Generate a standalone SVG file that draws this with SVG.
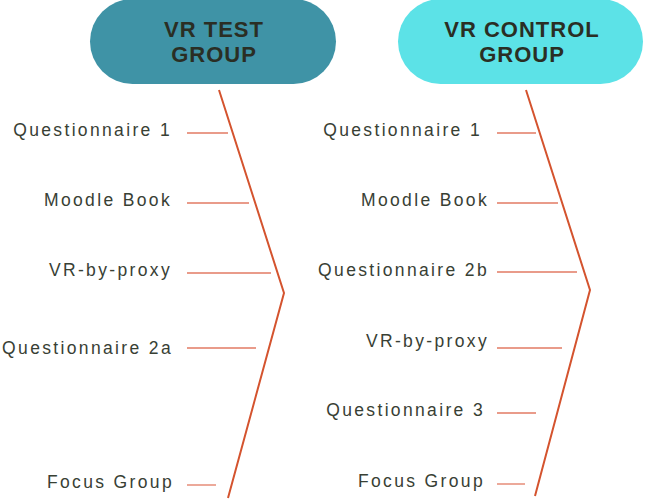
<svg xmlns="http://www.w3.org/2000/svg" width="645" height="500" viewBox="0 0 645 500">
<style>
.title{font-family:"Liberation Sans",Arial,sans-serif;font-weight:bold;font-size:22px;letter-spacing:1px;fill:#2a2e24;text-anchor:middle}
.lbl{font-family:"Liberation Sans",Arial,sans-serif;font-size:17.5px;letter-spacing:2.35px;fill:#384034;text-anchor:end}
.br{stroke:#e27a63;stroke-width:1.3;fill:none}
.spine{stroke:#d4532e;stroke-width:2;fill:none}
</style>
<rect width="645" height="500" fill="#ffffff"/>
<g id="node-test">
<rect x="90" y="-1" width="246" height="85" rx="42.5" fill="#3f93a6"/>
<text class="title" x="214" y="37">VR TEST</text>
<text class="title" x="214" y="62">GROUP</text>
</g>
<g id="node-control">
<rect x="398" y="-1" width="245" height="85" rx="42.5" fill="#5ce2e7"/>
<text class="title" x="522" y="37">VR CONTROL</text>
<text class="title" x="522" y="62">GROUP</text>
</g>
<g id="connectors">
<polyline class="spine" points="219,90 284,293 228,498"/>
<polyline class="spine" points="526,90 590,290 535,496"/>
<line class="br" x1="187" y1="133" x2="228" y2="133"/>
<line class="br" x1="187" y1="203" x2="249" y2="203"/>
<line class="br" x1="187" y1="273" x2="271" y2="273"/>
<line class="br" x1="187" y1="348" x2="256" y2="348"/>
<line class="br" x1="187" y1="485" x2="216" y2="485"/>
<line class="br" x1="497" y1="133" x2="536" y2="133"/>
<line class="br" x1="497" y1="203" x2="558" y2="203"/>
<line class="br" x1="497" y1="272" x2="577" y2="272"/>
<line class="br" x1="497" y1="348" x2="562" y2="348"/>
<line class="br" x1="497" y1="413" x2="536" y2="413"/>
<line class="br" x1="497" y1="484" x2="525" y2="484"/>
</g>
<g id="labels-test">
<text class="lbl" x="172" y="136">Questionnaire 1</text>
<text class="lbl" x="172" y="206">Moodle Book</text>
<text class="lbl" x="172" y="276">VR-by-proxy</text>
<text class="lbl" x="173" y="354">Questionnaire 2a</text>
<text class="lbl" x="174" y="488">Focus Group</text>
</g>
<g id="labels-control">
<text class="lbl" x="482" y="136">Questionnaire 1</text>
<text class="lbl" x="489" y="206">Moodle Book</text>
<text class="lbl" x="489" y="276">Questionnaire 2b</text>
<text class="lbl" x="489" y="347">VR-by-proxy</text>
<text class="lbl" x="485" y="416">Questionnaire 3</text>
<text class="lbl" x="485" y="487">Focus Group</text>
</g>
</svg>
